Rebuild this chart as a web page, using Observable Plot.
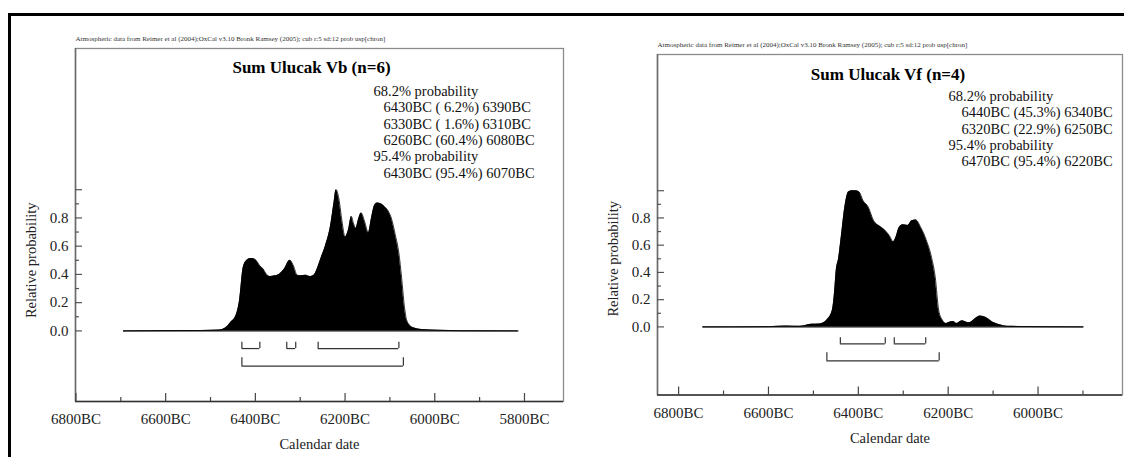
<!DOCTYPE html>
<html><head><meta charset="utf-8">
<script src="https://cdn.jsdelivr.net/npm/d3@7"></script>
<script src="https://cdn.jsdelivr.net/npm/@observablehq/plot@0.6"></script>
<style>
body{margin:0;background:#fff;}
#wrap{position:relative;width:1124px;height:457px;overflow:hidden;background:#fff;}
#border{position:absolute;left:8px;top:13px;width:1200px;height:600px;border-left:3px solid #000;border-top:3px solid #000;}
.panel{position:absolute;top:0;}
</style></head>
<body>
<div id="wrap"><div id="border"></div><div id="left" class="panel" style="left:0;width:570px"></div><div id="right" class="panel" style="left:570px;width:554px"></div></div>
<script>
// ---- data ----
const sourceNote = "Atmospheric data from Reimer et al (2004);OxCal v3.10 Bronk Ramsey (2005); cub r:5 sd:12 prob usp[chron]";

const vbTitle = "Sum Ulucak Vb (n=6)";
const vbYear = [6694,6600,6520,6480,6467,6455,6443,6435,6427,6419,6411,6403,6396,6390,6383,6375,6367,6357,6347,6335,6323,6315,6307,6298,6288,6278,6268,6262,6252,6244,6232,6225,6220,6214,6207,6200,6192,6186,6181,6176,6170,6164,6157,6148,6141,6134,6128,6120,6112,6104,6097,6088,6080,6074,6068,6063,6056,6046,6030,5990,5940,5814];
const vbProb = [0,0.002,0.003,0.006,0.02,0.06,0.11,0.22,0.45,0.50,0.512,0.51,0.49,0.46,0.44,0.40,0.385,0.39,0.40,0.44,0.50,0.46,0.395,0.39,0.395,0.385,0.40,0.44,0.53,0.60,0.75,0.90,1.0,0.94,0.78,0.665,0.72,0.81,0.76,0.725,0.79,0.835,0.78,0.695,0.80,0.89,0.906,0.90,0.88,0.85,0.80,0.68,0.55,0.38,0.18,0.08,0.04,0.02,0.01,0.004,0.001,0];
const vbFrom68 = [6430,6330,6260];
const vbTo68   = [6390,6310,6080];
const vbPct68  = [6.2,1.6,60.4];
const vbFrom95 = [6430];
const vbTo95   = [6070];
const vbPct95  = [95.4];

const vfTitle = "Sum Ulucak Vf (n=4)";
const vfYear = [6746,6600,6560,6530,6505,6485,6470,6458,6453,6449,6444,6438,6430,6422,6414,6406,6398,6390,6378,6366,6353,6341,6331,6322,6316,6309,6301,6290,6281,6272,6261,6249,6237,6229,6221,6213,6205,6197,6189,6181,6169,6160,6153,6140,6129,6117,6101,6085,6069,5899];
const vfProb = [0,0.002,0.006,0.004,0.02,0.022,0.05,0.12,0.25,0.42,0.50,0.66,0.88,0.99,1.0,1.0,0.99,0.93,0.88,0.78,0.74,0.71,0.67,0.625,0.66,0.73,0.75,0.745,0.78,0.785,0.73,0.64,0.51,0.37,0.12,0.05,0.025,0.035,0.04,0.025,0.045,0.035,0.03,0.06,0.08,0.07,0.035,0.015,0.004,0];
const vfFrom68 = [6440,6320];
const vfTo68   = [6340,6250];
const vfPct68  = [45.3,22.9];
const vfFrom95 = [6470];
const vfTo95   = [6220];
const vfPct95  = [95.4];

const yLabelTicks = [0,0.2,0.4,0.6,0.8];
const yMajorTicks = [0,0.2,0.4,0.6,0.8,1.0];
const yMinorTicks = [0.1,0.3,0.5,0.7,0.9];
const vbXMajor = [6800,6600,6400,6200,6000,5800];
const vbXMinor = [6700,6500,6300,6100,5900];
const vfXMajor = [6800,6600,6400,6200,6000];
const vfXMinor = [6700,6500,6300,6100,5900];

// ---- drawing ----
const serif = "'Liberation Serif','Times New Roman',Times,serif";
function pctText(p){ const s = p.toFixed(1); return s.length < 4 ? " " + s : s; }
function rangeLines(from, to, pct){ return from.map((f,i)=>`${f}BC (${pctText(pct[i])}%) ${to[i]}BC`); }

function panel(c){
  const curve = c.years.map((y,i)=>({year:y, p:c.probs[i]}));
  const boxW = c.width - c.mLeft - c.mRight;
  const boxH = c.height - c.mTop - c.mBottom;
  const xLeft = c.xDomain[1];
  const r68 = c.from68.map((f,i)=>({from:f, to:c.to68[i]}));
  const r95 = c.from95.map((f,i)=>({from:f, to:c.to95[i]}));
  const ends68 = r68.flatMap(d=>[d.from,d.to]);
  const ends95 = r95.flatMap(d=>[d.from,d.to]);
  const statLines = [
    {t:"68.2% probability", indent:false},
    ...rangeLines(c.from68,c.to68,c.pct68).map(t=>({t, indent:true})),
    {t:"95.4% probability", indent:false},
    ...rangeLines(c.from95,c.to95,c.pct95).map(t=>({t, indent:true}))
  ];
  const marks = [
    Plot.frame({stroke:"#8c8c8c", strokeWidth:1.3}),
    Plot.ruleX([xLeft], {stroke:"#6a6a6a", strokeWidth:1.5}),
    Plot.ruleY([-0.5], {stroke:"#333", strokeWidth:1.5}),
    Plot.ruleY([0], {x1: c.years[0], x2: c.years[c.years.length-1], stroke:"#5a5a5a", strokeWidth:1.6}),
    Plot.areaY(curve, {x:"year", y:"p", fill:"#000", curve:"monotone-x"}),
    Plot.lineY(curve, {x:"year", y:"p", stroke:"#000", strokeWidth:0.8, curve:"monotone-x"}),
    // y ticks (inward)
    Plot.tickY(yMajorTicks, {y:d=>d, insetRight: boxW-7, stroke:"#555", strokeWidth:1.2}),
    Plot.tickY(yMinorTicks, {y:d=>d, insetRight: boxW-4, stroke:"#555", strokeWidth:1.2}),
    // x ticks (inward)
    Plot.tickX(c.xMajor, {x:d=>d, insetTop: boxH-8, stroke:"#444", strokeWidth:1.2}),
    Plot.tickX(c.xMinor, {x:d=>d, insetTop: boxH-4, stroke:"#444", strokeWidth:1.2}),
    Plot.axisY(yLabelTicks, {anchor:"left", tickSize:0, tickPadding:7, tickFormat:d3.format(".1f"), fontSize:15, label:null, fill:"#222"}),
    Plot.axisX(c.xMajor, {anchor:"bottom", tickSize:0, tickPadding:12, tickFormat:d=>`${d}BC`, fontSize:15, label:null, fill:"#222"}),
    // range brackets
    Plot.ruleY(r68, {x1:"from", x2:"to", y:()=>-0.125, stroke:"#333", strokeWidth:1.2}),
    Plot.ruleX(ends68, {x:d=>d, y1:()=>-0.125, y2:()=>-0.08, stroke:"#333", strokeWidth:1.2}),
    Plot.ruleY(r95, {x1:"from", x2:"to", y:()=>-0.25, stroke:"#333", strokeWidth:1.2}),
    Plot.ruleX(ends95, {x:d=>d, y1:()=>-0.25, y2:()=>-0.19, stroke:"#333", strokeWidth:1.2}),
    // texts
    Plot.text([sourceNote], {frameAnchor:"top-left", lineAnchor:"middle", dy:-10, textAnchor:"start", fontSize:7, fill:"#333"}),
    Plot.text([c.title], {frameAnchor:"top", lineAnchor:"middle", dx:c.titleDx, dy:c.titleDy, fontSize:17, fontWeight:"bold", fill:"#000"}),
    ...statLines.map((s,i)=>Plot.text([s.t], {frameAnchor:"top-left", lineAnchor:"middle", dx: s.indent ? c.indentDx : c.headDx, dy: c.statDy + i*16.3, textAnchor:"start", fontSize:14.5, fill:"#111"})),
    Plot.text(["Relative probability"], {x:()=>xLeft, y:()=>0.5, dx:-44, rotate:-90, fontSize:14.5, fill:"#222"}),
    Plot.text(["Calendar date"], {frameAnchor:"bottom", lineAnchor:"middle", dy:43, fontSize:14.5, fill:"#222"})
  ];
  return Plot.plot({
    width:c.width, height:c.height,
    marginLeft:c.mLeft, marginRight:c.mRight, marginTop:c.mTop, marginBottom:c.mBottom,
    style:{fontFamily:serif, fontSize:"14px", background:"transparent", color:"#000", overflow:"visible"},
    x:{domain:c.xDomain, reverse:true, axis:null},
    y:{domain:[-0.5,2.0], axis:null},
    marks
  });
}

document.getElementById("left").append(panel({
  years:vbYear, probs:vbProb, title:vbTitle,
  from68:vbFrom68, to68:vbTo68, pct68:vbPct68, from95:vbFrom95, to95:vbTo95, pct95:vbPct95,
  xMajor:vbXMajor, xMinor:vbXMinor, xDomain:[5713,6801],
  width:570, height:457, mLeft:75, mRight:7, mTop:48, mBottom:56,
  titleDx:-8, titleDy:19, statDy:43, headDx:298, indentDx:308
}));
document.getElementById("right").append(panel({
  years:vfYear, probs:vfProb, title:vfTitle,
  from68:vfFrom68, to68:vfTo68, pct68:vfPct68, from95:vfFrom95, to95:vfTo95, pct95:vfPct95,
  xMajor:vfXMajor, xMinor:vfXMinor, xDomain:[5812,6847],
  width:554, height:457, mLeft:87, mRight:2, mTop:54, mBottom:62.5,
  titleDx:-2, titleDy:20, statDy:42, headDx:291, indentDx:304
}));
</script>
</body></html>
